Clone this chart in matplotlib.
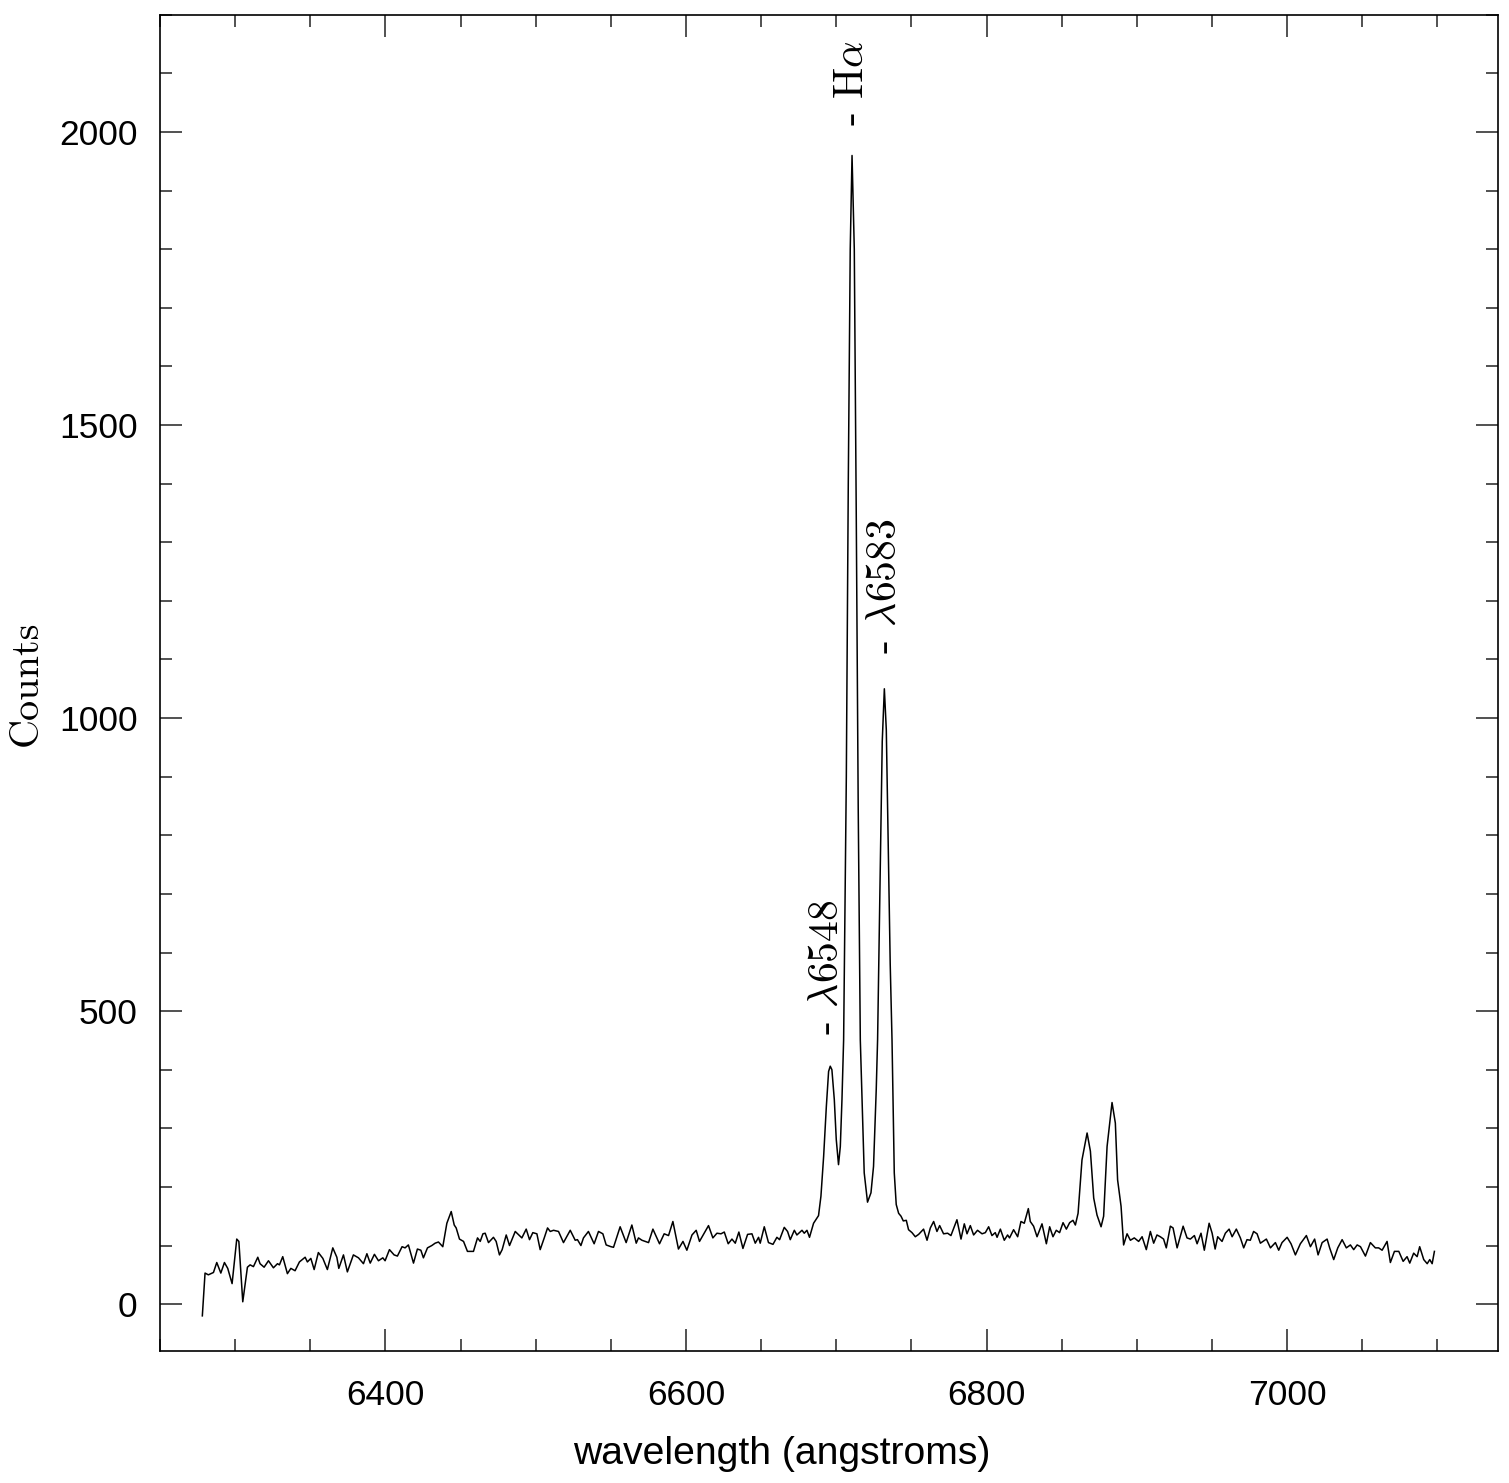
import numpy as np
import matplotlib.pyplot as plt
from matplotlib.ticker import MultipleLocator

plt.rcParams['mathtext.fontset'] = 'cm'

# spectrum (wavelength in angstroms, counts)
wave = [6278.2, 6280.0, 6282.2, 6285.6, 6287.8, 6290.5, 6292.9, 6295.1, 6298.0, 6301.1,
        6302.5, 6305.1, 6308.2, 6310.0, 6312.2, 6315.1, 6316.6, 6319.3, 6322.2, 6325.5,
        6328.2, 6329.5, 6331.7, 6334.8, 6337.1, 6339.9, 6342.8, 6346.6, 6348.1, 6350.4,
        6352.6, 6355.4, 6358.4, 6361.4, 6365.0, 6367.7, 6369.0, 6372.1, 6374.7, 6378.7,
        6382.1, 6385.4, 6387.7, 6389.9, 6392.7, 6395.4, 6398.3, 6399.8, 6402.7, 6405.8,
        6408.0, 6411.1, 6413.1, 6415.3, 6418.7, 6421.3, 6423.6, 6425.3, 6428.0, 6430.9,
        6433.1, 6435.3, 6438.2, 6440.9, 6443.8, 6445.8, 6447.1, 6449.3, 6452.0, 6454.6,
        6458.6, 6461.3, 6463.1, 6464.9, 6466.4, 6468.6, 6471.9, 6473.7, 6475.9, 6477.7,
        6480.4, 6482.6, 6486.4, 6490.8, 6493.7, 6495.9, 6498.1, 6500.8, 6503.0, 6505.7,
        6507.9, 6509.7, 6511.9, 6515.2, 6518.5, 6523.0, 6526.3, 6527.8, 6530.1, 6531.8,
        6535.1, 6538.9, 6541.8, 6544.7, 6546.9, 6550.1, 6551.8, 6556.2, 6560.2, 6564.0,
        6566.9, 6568.4, 6570.7, 6575.1, 6578.0, 6582.4, 6585.5, 6588.4, 6591.3, 6595.0,
        6598.0, 6600.6, 6604.0, 6606.8, 6609.0, 6615.0, 6617.9, 6620.6, 6623.3, 6625.5,
        6628.1, 6630.6, 6632.8, 6635.2, 6637.9, 6641.0, 6643.9, 6646.1, 6648.3, 6649.4,
        6652.1, 6654.9, 6657.9, 6660.5, 6662.3, 6665.4, 6667.6, 6669.4, 6672.1, 6673.8,
        6677.2, 6678.7, 6680.5, 6682.2, 6684.9, 6688.2, 6689.8, 6691.6, 6693.4, 6694.9,
        6696.0, 6697.1, 6698.7, 6700.0, 6701.5, 6702.7, 6703.8, 6704.9, 6706.7, 6708.0,
        6709.3, 6710.5, 6712.0, 6713.3, 6714.6, 6716.0, 6718.6, 6720.8, 6723.1, 6724.8,
        6726.6, 6727.5, 6729.3, 6730.6, 6732.0, 6733.3, 6734.6, 6735.9, 6737.1, 6738.6,
        6739.9, 6741.5, 6743.1, 6744.6, 6746.6, 6748.1, 6750.4, 6752.6, 6754.8, 6758.1,
        6760.4, 6762.6, 6764.8, 6767.0, 6768.8, 6771.4, 6774.1, 6776.3, 6780.3, 6783.0,
        6785.2, 6787.0, 6789.2, 6791.4, 6794.0, 6797.0, 6799.2, 6801.4, 6803.6, 6805.8,
        6807.0, 6809.2, 6811.8, 6814.0, 6815.3, 6818.0, 6820.7, 6822.9, 6825.1, 6827.8,
        6829.1, 6831.3, 6833.6, 6836.9, 6839.8, 6842.0, 6844.2, 6846.4, 6848.6, 6850.9,
        6853.1, 6855.3, 6857.5, 6859.1, 6860.9, 6863.5, 6866.9, 6869.1, 6871.3, 6873.5,
        6876.2, 6877.9, 6880.2, 6883.5, 6885.7, 6887.2, 6889.5, 6891.2, 6893.5, 6895.7,
        6898.3, 6901.2, 6903.5, 6906.3, 6909.0, 6911.2, 6913.4, 6915.6, 6917.8, 6919.6,
        6922.3, 6924.1, 6926.8, 6930.8, 6933.4, 6935.6, 6938.3, 6940.1, 6942.7, 6944.9,
        6948.1, 6950.1, 6952.1, 6953.8, 6956.7, 6958.9, 6961.4, 6963.4, 6966.2, 6968.9,
        6971.1, 6973.3, 6975.5, 6977.7, 6980.0, 6982.2, 6986.2, 6988.9, 6992.2, 6994.4,
        6996.6, 7000.0, 7002.6, 7005.5, 7008.8, 7012.8, 7015.5, 7018.3, 7020.6, 7023.3,
        7026.6, 7028.3, 7031.0, 7033.7, 7036.6, 7039.4, 7042.1, 7044.3, 7046.6, 7048.8,
        7052.1, 7055.4, 7058.7, 7060.9, 7063.2, 7066.5, 7068.7, 7071.4, 7074.3, 7077.2,
        7079.8, 7081.6, 7084.2, 7086.5, 7088.2, 7090.9, 7093.2, 7094.9, 7096.5, 7098.0]

counts = [-20, 53, 50, 54, 71, 53, 71, 61, 35, 111,
          107, 4, 63, 67, 64, 80, 69, 63, 74, 62,
          69, 67, 81, 52, 61, 57, 72, 80, 72, 78,
          59, 88, 78, 59, 96, 80, 61, 84, 55, 84,
          79, 69, 86, 70, 85, 74, 79, 74, 93, 84,
          82, 98, 96, 101, 70, 94, 92, 79, 96, 100,
          104, 106, 98, 138, 158, 135, 130, 111, 107, 90,
          90, 113, 107, 120, 121, 105, 114, 107, 84, 93,
          118, 100, 124, 113, 128, 110, 122, 120, 93, 113,
          130, 124, 126, 124, 105, 126, 109, 110, 100, 113,
          124, 103, 124, 120, 101, 98, 97, 132, 105, 135,
          104, 113, 109, 105, 128, 103, 120, 117, 141, 94,
          107, 92, 118, 126, 107, 134, 113, 121, 120, 123,
          103, 111, 104, 123, 95, 119, 120, 104, 114, 104,
          132, 105, 102, 114, 110, 131, 124, 110, 126, 118,
          126, 121, 126, 114, 138, 151, 184, 252, 337, 397,
          406, 400, 349, 281, 238, 269, 349, 451, 900, 1400,
          1800, 1960, 1800, 1350, 850, 451, 224, 174, 190, 235,
          366, 451, 750, 960, 1050, 980, 780, 580, 451, 224,
          170, 155, 150, 142, 143, 127, 122, 115, 119, 128,
          109, 130, 141, 124, 134, 120, 121, 117, 144, 111,
          137, 120, 134, 118, 126, 120, 122, 132, 117, 122,
          114, 128, 109, 118, 113, 127, 115, 141, 138, 163,
          141, 133, 115, 137, 103, 132, 115, 126, 122, 139,
          128, 139, 143, 135, 155, 246, 292, 261, 181, 152,
          132, 150, 269, 344, 309, 212, 167, 101, 120, 109,
          113, 107, 115, 93, 124, 104, 118, 115, 111, 96,
          133, 130, 96, 133, 113, 111, 117, 103, 121, 92,
          138, 121, 94, 115, 107, 121, 128, 115, 128, 113,
          96, 110, 109, 124, 120, 104, 111, 96, 105, 92,
          105, 114, 103, 84, 103, 117, 98, 111, 84, 105,
          111, 96, 76, 96, 110, 96, 101, 93, 101, 98,
          82, 105, 96, 96, 92, 107, 71, 90, 90, 73,
          81, 70, 87, 81, 98, 76, 69, 76, 69, 90]

# emission line labels
line_labels = [r'$\lambda$6548', r'H$\alpha$', r'$\lambda$6583']
line_wave = [6694.0, 6710.4, 6732.3]
label_y = [460, 2010, 1110]

fig = plt.figure(figsize=(15.09, 14.83), dpi=100)
ax = fig.add_axes([0.106, 0.089, 0.8864, 0.901])

ax.plot(wave, counts, color='black', lw=1.1)

for lab, w, y in zip(line_labels, line_wave, label_y):
    ax.text(w, y, '- ' + lab, rotation=90, ha='center', va='bottom',
            family='cmr10', fontsize=30)

ax.set_xlim(6250, 7140)
ax.set_ylim(-80, 2200)
ax.xaxis.set_major_locator(MultipleLocator(200))
ax.xaxis.set_minor_locator(MultipleLocator(50))
ax.yaxis.set_major_locator(MultipleLocator(500))
ax.yaxis.set_minor_locator(MultipleLocator(100))
ax.tick_params(which='both', direction='in', top=True, right=True, width=1.2,
               color='#333333')
ax.tick_params(which='major', length=16, labelsize=25.5)
ax.tick_params(which='minor', length=8.6)
ax.tick_params(axis='y', pad=16)
ax.tick_params(axis='x', pad=20)
for lbl in ax.get_xticklabels() + ax.get_yticklabels():
    lbl.set_family('Liberation Sans')
for s in ax.spines.values():
    s.set_linewidth(1.2)

ax.set_xlabel('wavelength (angstroms)', family='Liberation Sans', fontsize=28.2, labelpad=16)
ax.xaxis.set_label_coords(0.4645, -0.0635)
ax.set_ylabel('Counts', family='cmr10', fontsize=29, labelpad=10)

fig.savefig('out.png', dpi=100)
